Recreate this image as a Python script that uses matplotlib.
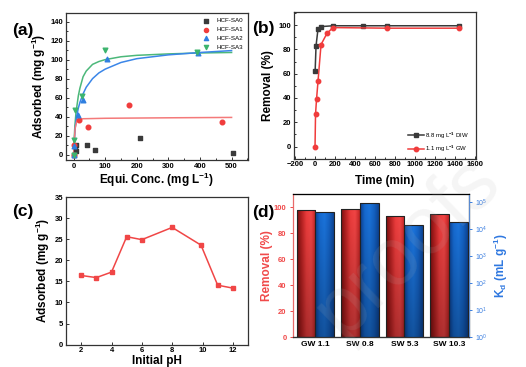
import numpy as np
import matplotlib
matplotlib.use("Agg")
import matplotlib.pyplot as plt
from matplotlib.colors import LinearSegmentedColormap
from matplotlib.ticker import MultipleLocator, LogLocator

plt.rcParams['font.family'] = ['Liberation Sans', 'DejaVu Sans']
plt.rcParams['mathtext.fontset'] = 'custom'
plt.rcParams['mathtext.rm'] = 'Liberation Sans'
plt.rcParams['mathtext.bf'] = 'Liberation Sans:bold'
plt.rcParams['mathtext.default'] = 'bf'

# ---- (a) isotherms ----
sa0_c = [0, 3, 7, 8, 41, 69, 209, 505]
sa0_q = [0, 9, 3.5, 10.5, 10.5, 5.3, 17.8, 1.8]
sa1_c = [0, 2, 17, 45, 174, 470]
sa1_q = [0, 10, 36, 29.5, 52, 34.6]
sa2_c = [0, 1, 13, 29, 106, 394]
sa2_q = [0, 9, 42, 58, 101, 107]
sa3_c = [0, 1, 5, 25.5, 98, 392]
sa3_q = [0, 15.5, 47, 62, 110.6, 108.5]
# fitted curves
fit1_c = [0, 2, 5, 10, 15, 30, 100, 300, 500]
fit1_q = [0, 14, 28, 35, 37, 37.8, 38.3, 38.8, 39.2]
fit2_c = [0, 2, 5, 10, 15, 20, 30, 40, 60, 80, 100, 150, 200, 300, 400, 500]
fit2_q = [0, 12, 28, 41, 49, 55, 64, 71, 80, 86, 90, 97, 101, 105, 107.5, 109.5]
fit3_c = [0, 1, 2, 4, 7, 10, 15, 20, 30, 40, 60, 80, 100, 150, 200, 300, 400, 500]
fit3_q = [0, 9, 17, 30, 42, 50, 62, 70, 82, 88, 95, 98, 100, 103, 104.5, 106, 107, 107.5]

# ---- (b) kinetics ----
diw_t = [1, 10, 30, 60, 180, 480, 720, 1440]
diw_r = [62, 83, 97, 98.8, 99.5, 99.5, 99.5, 99.5]
gw_t = [0, 5, 15, 30, 60, 120, 180, 720, 1440]
gw_r = [0, 26.8, 39, 54, 84, 93.3, 98, 97.5, 97.5]

# ---- (c) pH ----
ph = [2, 3, 4, 5, 6, 8, 9.9, 11, 12]
ph_q = [16.4, 15.9, 17.2, 25.6, 24.9, 27.8, 23.6, 14.1, 13.4]

# ---- (d) real waters ----
waters = ['GW 1.1', 'SW 0.8', 'SW 5.3', 'SW 10.3']
removal = [97.7, 98.7, 93.3, 94.8]
kd = [10**4.63, 10**4.94, 10**4.13, 10**4.25]

fig = plt.figure(figsize=(5.26, 3.67), dpi=100)

tick_fs = 5.5
lab_fs = 8.5
spine_c = '#333333'


def style(ax, direction='in'):
    for s in ax.spines.values():
        s.set_color(spine_c)
        s.set_linewidth(0.9)
    ax.tick_params(which='both', direction=direction, labelsize=tick_fs, width=0.7,
                   color=spine_c, top=False, right=False, pad=2)
    ax.tick_params(which='major', length=2.5)
    ax.tick_params(which='minor', length=1.5)
    for t in ax.get_xticklabels() + ax.get_yticklabels():
        t.set_fontweight('bold')


# (a)
ax = fig.add_axes([0.1255, 0.564, 0.346, 0.4005])
ax.plot(fit3_c, fit3_q, color='#4cb87a', lw=1.1)
ax.plot(fit2_c, fit2_q, color='#3b86e8', lw=1.1)
ax.plot(fit1_c, fit1_q, color='#f47a7a', lw=1.1)
ax.scatter(sa0_c, sa0_q, marker='s', s=9, color='#3a3a3a', label='HCF-SA0', zorder=3)
ax.scatter(sa1_c, sa1_q, marker='o', s=11, color='#f03c3c', label='HCF-SA1', zorder=3)
ax.scatter(sa2_c, sa2_q, marker='^', s=11, color='#2f7fe0', label='HCF-SA2', zorder=3)
ax.scatter(sa3_c, sa3_q, marker='v', s=11, color='#3cb46e', label='HCF-SA3', zorder=3)
ax.set_xlim(-24, 552)
ax.set_ylim(-5.6, 149)
ax.xaxis.set_major_locator(MultipleLocator(100))
ax.xaxis.set_minor_locator(MultipleLocator(50))
ax.yaxis.set_major_locator(MultipleLocator(20))
ax.yaxis.set_minor_locator(MultipleLocator(10))
style(ax)
ax.set_xlabel('Equi. Conc. (mg L$^{-1}$)', fontsize=lab_fs, fontweight='bold', labelpad=1)
ax.set_ylabel('Adsorbed (mg g$^{-1}$)', fontsize=lab_fs, fontweight='bold', labelpad=2)
ax.legend(loc='upper right', frameon=False, fontsize=4.5, handletextpad=0.6,
          labelspacing=0.55, borderpad=0.3, markerscale=0.9, bbox_to_anchor=(1.0, 1.0))

# (b)
ax = fig.add_axes([0.559, 0.5676, 0.346, 0.3986])
ax.plot(diw_t, diw_r, color='#3a3a3a', marker='s', ms=3.2, lw=1.1, label='8.8 mg L$^{-1}$ DIW')
ax.plot(gw_t, gw_r, color='#f03c3c', marker='o', ms=3.2, lw=1.1, label='1.1 mg L$^{-1}$ GW')
ax.set_xlim(-210, 1610)
ax.set_ylim(-10, 110.5)
ax.xaxis.set_major_locator(MultipleLocator(200))
ax.xaxis.set_minor_locator(MultipleLocator(100))
ax.yaxis.set_major_locator(MultipleLocator(20))
ax.yaxis.set_minor_locator(MultipleLocator(10))
style(ax)
ax.set_xlabel('Time (min)', fontsize=lab_fs, fontweight='bold', labelpad=5)
ax.set_ylabel('Removal (%)', fontsize=lab_fs, fontweight='bold', labelpad=3)
leg = ax.legend(loc='lower right', frameon=False, fontsize=4.3, handlelength=2.6,
                handletextpad=0.2, labelspacing=0.5, borderpad=0.3, bbox_to_anchor=(0.985, 0.0))

# (c)
ax = fig.add_axes([0.1255, 0.061, 0.346, 0.402])
ax.plot(ph, ph_q, color='#f04646', marker='s', ms=3.2, lw=1.1)
ax.set_xlim(1, 13)
ax.set_ylim(0, 35)
ax.set_xticks([2, 4, 6, 8, 10, 12])
ax.yaxis.set_major_locator(MultipleLocator(5))
style(ax)
ax.set_xlabel('Initial pH', fontsize=lab_fs, fontweight='bold', labelpad=0.5)
ax.set_ylabel('Adsorbed (mg g$^{-1}$)', fontsize=lab_fs, fontweight='bold', labelpad=2)

# (d)
ax = fig.add_axes([0.557, 0.0817, 0.3346, 0.3907])
ax2 = ax.twinx()
x = np.arange(len(waters))
w = 0.42
bars_r = ax.bar(x - w / 2, removal, w, color='none', edgecolor='#222222', lw=0.8, zorder=3)
bars_b = ax2.bar(x + w / 2, kd, w, bottom=1, color='none', edgecolor='#222222', lw=0.8, zorder=3)
ax.set_xlim(-0.5, 3.45)
ax.set_ylim(0, 110.3)
ax2.set_yscale('log')
ax2.set_ylim(1, 10**5.3)
ax.set_xticks(x)
ax.set_xticklabels(waters)
ax.yaxis.set_major_locator(MultipleLocator(20))
ax2.yaxis.set_major_locator(LogLocator(base=10, numticks=10))
ax2.yaxis.set_minor_locator(LogLocator(base=10, subs=[], numticks=10))

red_cmap = LinearSegmentedColormap.from_list('r', ['#7a1010', '#b82222', '#ec3c3c', '#f24545', '#c02424'])
blue_cmap = LinearSegmentedColormap.from_list('b', ['#0c3f8e', '#166ad0', '#1b74dc', '#1462c4', '#0d4494'])


def gradient_fill(a, bars, cmap):
    fig.canvas.draw()
    inv = a.transAxes.inverted()
    for b in bars:
        bb = b.get_window_extent().transformed(inv)
        y0 = max(bb.y0, 0.0)
        hx = np.linspace(0, 1, 60)
        vy = np.linspace(0.72, 1.0, 60)[:, None]
        img = cmap(hx)[None, :, :3] * vy[:, :, None]
        im = a.imshow(img, extent=[bb.x0, bb.x1, y0, bb.y1], transform=a.transAxes,
                      aspect='auto', zorder=2, interpolation='bilinear', origin='lower')
        im.set_clip_path(b)


gradient_fill(ax, bars_r, red_cmap)
gradient_fill(ax2, bars_b, blue_cmap)
ax.set_xlim(-0.5, 3.45)
ax2.set_ylim(1, 10**5.3)

for s in ax.spines.values():
    s.set_linewidth(0.9)
    s.set_color(spine_c)
ax.spines['left'].set_color('#e86a6a')
ax2.spines['right'].set_color('#5a8ad0')
ax2.spines['left'].set_visible(False)
ax2.spines['bottom'].set_color(spine_c)
ax.tick_params(axis='y', direction='out', colors='#f04a4a', labelsize=tick_fs, length=2.5, width=0.7, pad=2)
ax.tick_params(axis='x', direction='in', length=0, labelsize=tick_fs + 0.5, pad=3)
ax2.tick_params(axis='y', direction='out', colors='#3a7ee0', labelsize=tick_fs - 0.5, length=2.5, width=0.7, pad=2)
for t in ax.get_xticklabels() + ax.get_yticklabels():
    t.set_fontweight('bold')
ax.set_ylabel('Removal (%)', fontsize=lab_fs, fontweight='bold', color='#f04a4a', labelpad=1)
ax2.set_ylabel('K$_d$ (mL g$^{-1}$)', fontsize=lab_fs, fontweight='bold', color='#2f78e0', labelpad=3)

# panel letters
for lbl, px, py in [('(a)', 23, 30), ('(b)', 263, 29), ('(c)', 23, 211), ('(d)', 263, 212)]:
    fig.text(px / 526, 1 - py / 367, lbl, fontsize=12.5, fontweight='bold', ha='center', va='center')

# faint watermark
fig.text(0.775, 0.33, 'proofs', fontsize=58, color='#b0b0b0', alpha=0.13,
         rotation=44, rotation_mode='anchor', ha='center', va='center', zorder=10)

fig.savefig('out.png', dpi=100)
